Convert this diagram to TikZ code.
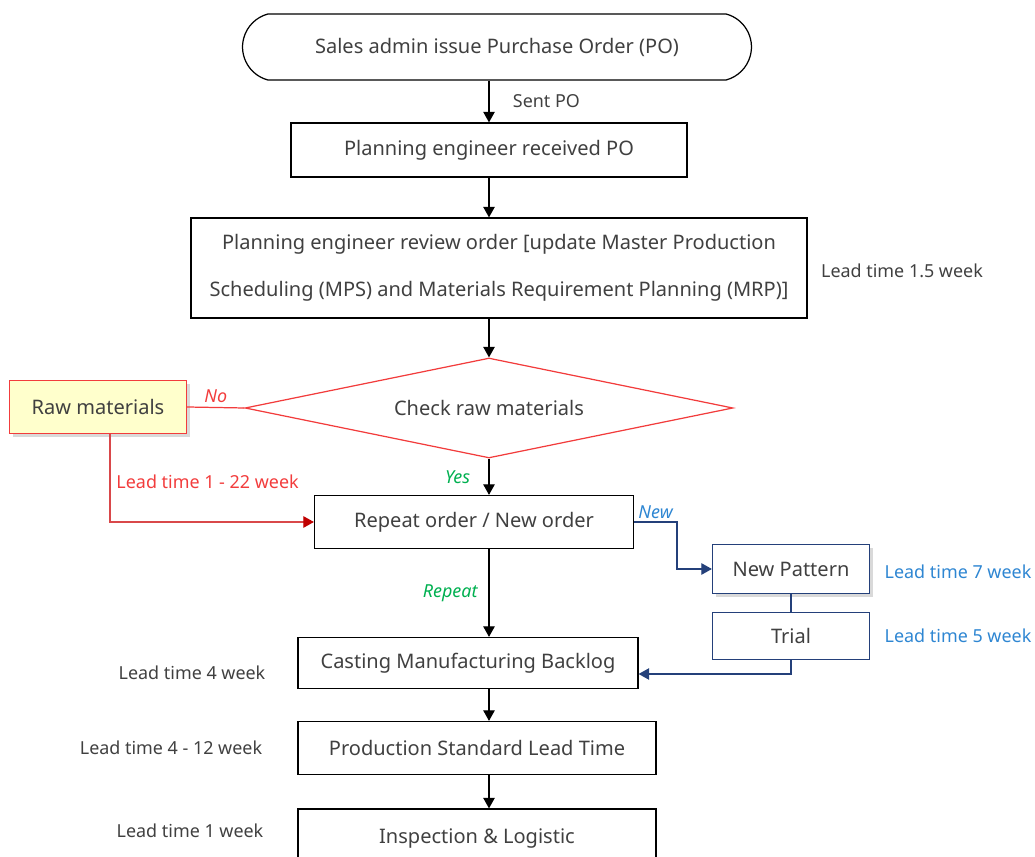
\documentclass[tikz,border=0pt]{standalone}
\usepackage{fontspec}
\setmainfont{Noto Sans}
\usepackage{xcolor}
\usepackage{tikz}
\usetikzlibrary{positioning,arrows.meta,shapes.geometric,shapes.misc,shadows}

\definecolor{txtgray}{HTML}{404040}
\definecolor{chkred}{HTML}{F23C3C}
\definecolor{linered}{HTML}{D9484A}
\definecolor{tipred}{HTML}{C00000}
\definecolor{rawfill}{HTML}{FFFFCC}
\definecolor{navy}{HTML}{24407A}
\definecolor{ltblue}{HTML}{2E86D2}
\definecolor{okgreen}{HTML}{00B050}

\begin{document}
\begin{tikzpicture}[
  x=0.02cm, y=-0.02cm,
  box/.style={draw, line width=0.7pt, align=center, text=txtgray, inner sep=0pt, font=\fontsize{11.4}{14}\selectfont},
  term/.style={box, rounded rectangle, rounded rectangle arc length=150},
  decision/.style={draw=chkred, line width=0.7pt, diamond, aspect=4.88, inner sep=0pt, text=txtgray, font=\fontsize{11.4}{14}\selectfont},
  rawbox/.style={box, draw=chkred, fill=rawfill, drop shadow={shadow xshift=2pt, shadow yshift=-2pt, opacity=0.3}},
  newbox/.style={box, draw=navy, fill=white},
  arr/.style={-{Triangle[length=6pt, width=6.5pt]}, line width=0.7pt},
  lbl/.style={font=\fontsize{10.2}{12}\selectfont, text=txtgray},
  redlbl/.style={lbl, text=chkred},
  bluelbl/.style={lbl, text=ltblue},
  oklbl/.style={lbl, text=okgreen, font=\fontsize{10.2}{12}\selectfont\itshape}
]
\useasboundingbox (0,0) rectangle (1035,857);
\clip (0,0) rectangle (1035,857);

% main column
\node[term, minimum width=10.18cm, minimum height=1.32cm] (start) at (497,47) {Sales admin issue Purchase Order (PO)};
\node[box, minimum width=7.92cm, minimum height=1.08cm] (recv) at (489,150) {Planning engineer received PO};
\node[box, minimum width=12.32cm, minimum height=2cm, font=\fontsize{11.4}{26.5}\selectfont] (review) at (499,268) {Planning engineer review order [update Master Production\\Scheduling (MPS) and Materials Requirement Planning (MRP)]};
\node[decision, minimum width=9.76cm, minimum height=2cm] (check) at (489,408) {Check raw materials};
\node[rawbox, minimum width=3.54cm, minimum height=1.06cm] (raw) at (98,407) {Raw materials};
\node[box, minimum width=6.38cm, minimum height=1.06cm] (order) at (474,522) {Repeat order / New order};
\node[newbox, minimum width=3.14cm, minimum height=0.98cm, drop shadow={shadow xshift=2pt, shadow yshift=-2pt, opacity=0.3}] (pattern) at (791,569) {New Pattern};
\node[newbox, minimum width=3.14cm, minimum height=0.94cm] (trial) at (791,636) {Trial};
\node[box, minimum width=6.8cm, minimum height=1.02cm] (backlog) at (468,663) {Casting Manufacturing Backlog};
\node[box, minimum width=7.16cm, minimum height=1.06cm] (prod) at (477,748) {Production Standard Lead Time};
\node[box, minimum width=7.16cm, minimum height=1.2cm] (insp) at (477,839) {Inspection \& Logistic};

% lead times
\node[lbl] (lt15) at (902,271) {Lead time 1.5 week};
\node[bluelbl] (lt7) at (958,572) {Lead time 7 week};
\node[bluelbl] (lt5) at (958,636) {Lead time 5 week};
\node[lbl] (lt4) at (192,673) {Lead time 4 week};
\node[lbl] (lt412) at (171,748) {Lead time 4 - 12 week};
\node[lbl] (lt1) at (190,831) {Lead time 1 week};

\draw[arr] (start.south -| recv.north) -- node[lbl, anchor=west, xshift=0.35cm] {Sent PO} (recv.north);
\draw[arr] (recv.south) -- (recv.south |- review.north);
\draw[arr] (review.south -| check.north) -- (check.north);
\draw[line width=0.7pt, draw=chkred] (check.west) -- node[redlbl, font=\fontsize{10.2}{12}\selectfont\itshape, above, yshift=-1pt] {No} (raw.east);
\draw[arr] (check.south) -- node[oklbl, left, xshift=-0.25cm] {Yes} (check.south |- order.north);
\draw[line width=0.7pt, draw=linered, -{Triangle[length=6pt, width=6.5pt, color=tipred]}] ([xshift=0.24cm]raw.south) |- node[redlbl, pos=0.27, anchor=west] {Lead time 1 - 22 week} (order.west);
\draw[arr] (order.south -| check.south) -- node[oklbl, left, xshift=-0.1cm] {Repeat} (backlog.north -| check.south);
\draw[arr, draw=navy] (order.east) -- node[bluelbl, font=\fontsize{10.2}{12}\selectfont\itshape, above, yshift=-2pt] {New} ++(43,0) |- (pattern.west);
\draw[line width=0.7pt, draw=navy] (pattern.south) -- (trial.north);
\draw[arr, draw=navy] (trial.south) |- ([yshift=-0.22cm]backlog.east);
\draw[arr] (backlog.south -| check.south) -- (prod.north -| check.south);
\draw[arr] (prod.south -| check.south) -- (insp.north -| check.south);
\end{tikzpicture}
\end{document}
